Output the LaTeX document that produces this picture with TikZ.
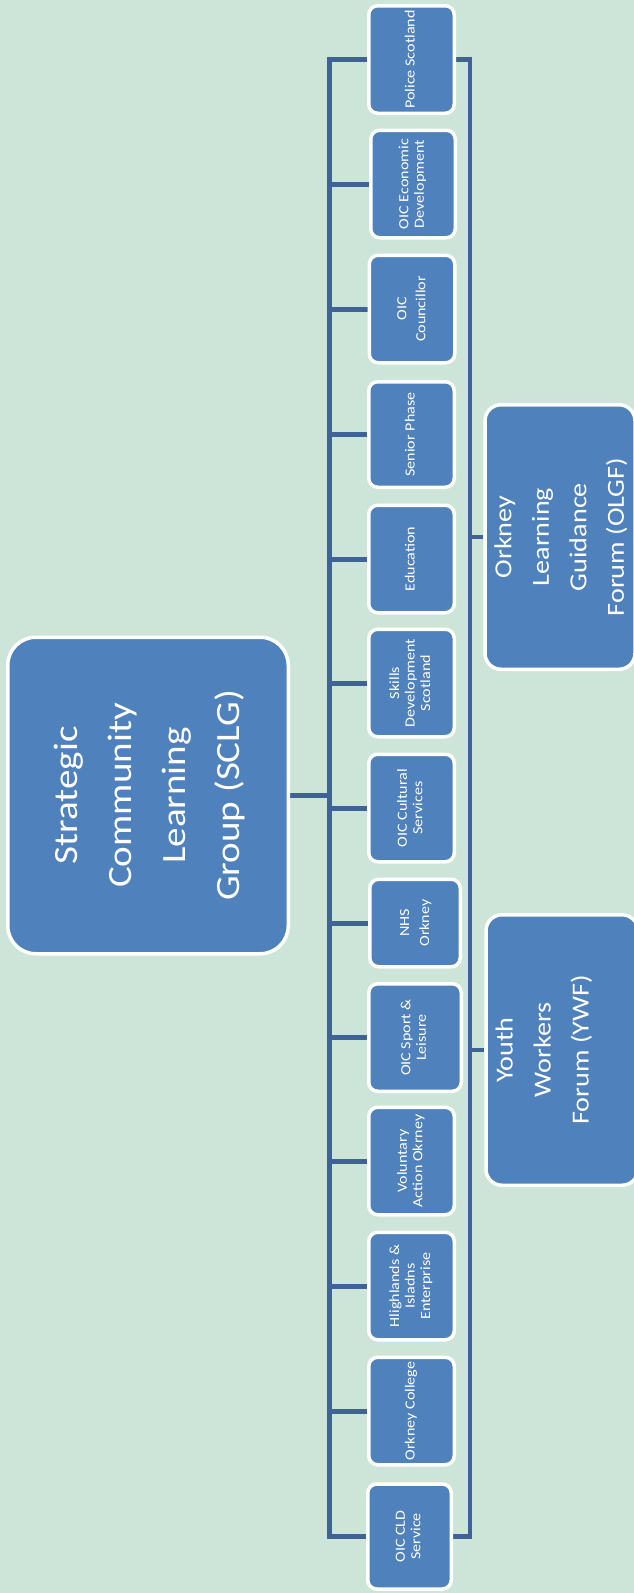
\documentclass[tikz,border=0pt]{standalone}
\usepackage{fontspec}
\setmainfont{Carlito}[FakeStretch=1.15]
\usepackage{graphicx}
\usetikzlibrary{backgrounds}
\definecolor{bgc}{HTML}{CDE4D8}
\definecolor{boxblue}{HTML}{4F81BD}
\definecolor{linec}{HTML}{3F6398}
\newcommand\rtext[3]{\rotatebox{90}{\fontsize{#1}{#2}\selectfont\begin{tabular}{@{}c@{}}#3\end{tabular}}}
\begin{document}
\begin{tikzpicture}[x=1pt,y=-1pt,
  box/.style={fill=boxblue,draw=white,line width=3.5pt,rounded corners=9pt,text=white,inner sep=0pt,minimum width=85.5pt,minimum height=107.5pt},
  conn/.style={draw=linec,line width=5pt},
  conn2/.style={draw=linec,line width=4.5pt}]
\useasboundingbox (0,0) rectangle (634,1593);
\node[box] (p1) at (411.5,59.5) {\rtext{14}{15.5}{Police Scotland}};
\node[box,minimum width=84.5pt] (p2) at (413,184) {\rtext{14}{15.5}{OIC Economic\\Development}};
\node[box] (p3) at (412,309) {\rtext{14}{19}{OIC\\Councillor}};
\node[box,minimum height=105.5pt] (p4) at (411.5,434.5) {\rtext{14}{15.5}{Senior Phase}};
\node[box] (p5) at (411.5,559) {\rtext{14}{15.5}{Education}};
\node[box] (p6) at (411.5,683) {\rtext{14}{15.5}{Skills\\Development\\Scotland}};
\node[box] (p7) at (411.5,808) {\rtext{14}{15.5}{OIC Cultural\\Services}};
\node[box,minimum width=90.5pt,minimum height=87.5pt] (p8) at (415,923) {\rtext{14}{20}{NHS\\Orkney}};
\node[box,minimum width=92.5pt] (p9) at (415,1037.5) {\rtext{14}{15.5}{OIC Sport \&\\Leisure}};
\node[box] (p10) at (411.5,1161) {\rtext{14}{15.5}{Voluntary\\Action Okrney}};
\node[box] (p11) at (411.5,1286) {\rtext{14}{15.5}{Hlighlands \&\\Isladns\\Enterprise}};
\node[box] (p12) at (411.5,1411) {\rtext{14}{15.5}{Orkney College}};
\node[box,minimum width=83.5pt,minimum height=105pt] (p13) at (409.5,1536.5) {\rtext{14}{15.5}{OIC CLD\\Service}};
\node[box,rounded corners=28pt,minimum width=280.5pt,minimum height=316.5pt] (sclg) at (148,795.5) {\rtext{34}{54}{Strategic\\Community\\Learning\\Group (SCLG)}};
\node[box,rounded corners=16pt,minimum width=142.5pt,minimum height=264.5pt] (olgf) at (560,537) {\rtext{24.5}{37.5}{Orkney\\Learning\\Guidance\\Forum (OLGF)}};
\node[box,rounded corners=16pt,minimum width=145.5pt,minimum height=270.5pt] (ywf) at (562,1050) {\rtext{24.5}{38}{Youth\\Workers\\Forum (YWF)\\~}};
\begin{scope}[on background layer]
\fill[bgc] (0,0) rectangle (634,1593);
\coordinate (lj) at (329.5,795.5);
\coordinate (rj) at (470,537);
\draw[conn] (p1.west) -| (lj) |- (p13.west);
\foreach \i in {2,...,12} \draw[conn] (p\i.west) -- (p\i.west -| lj);
\draw[conn] (sclg.east) -- (lj);
\draw[conn2] (p1.east) -| (rj) |- (p13.east);
\draw[conn2] (olgf.west) -- (olgf.west -| rj);
\draw[conn2] (ywf.west) -- (ywf.west -| rj);
\end{scope}
\end{tikzpicture}
\end{document}
